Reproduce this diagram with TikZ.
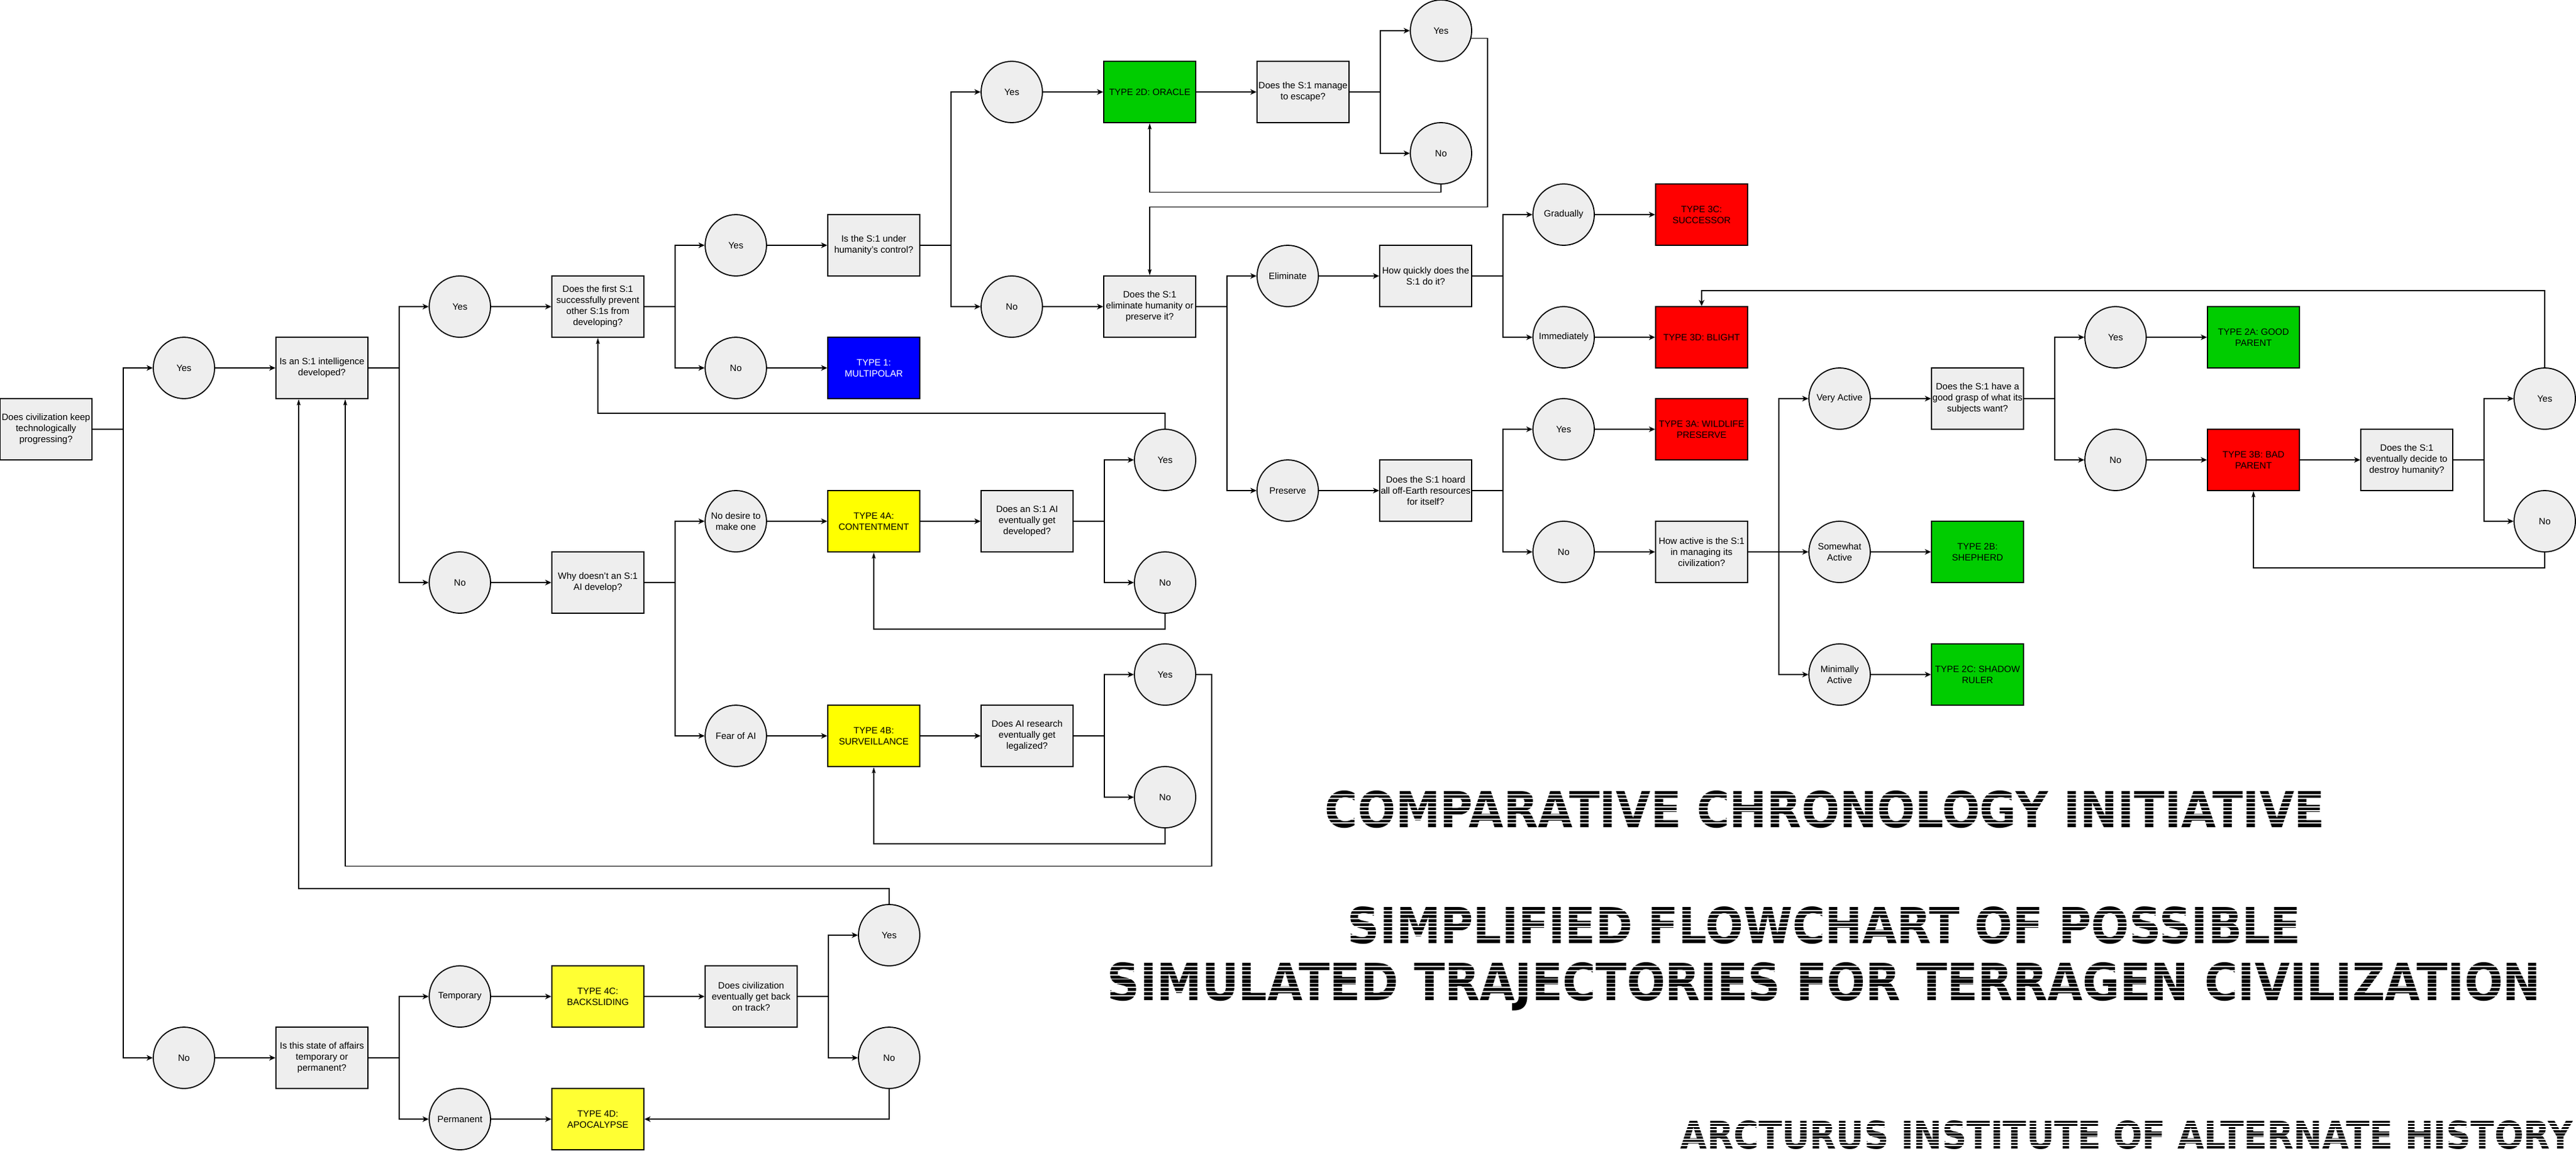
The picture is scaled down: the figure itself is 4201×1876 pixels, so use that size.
\documentclass[tikz,border=0pt]{standalone}
\usepackage{fontspec,graphicx}
\setmainfont{Liberation Sans}
\newfontfamily\titlefont{DejaVu Sans}
\usetikzlibrary{arrows.meta,calc}
\definecolor{qgrey}{HTML}{EEEEEE}
\definecolor{typegreen}{HTML}{00CC00}
\definecolor{typered}{HTML}{FF0000}
\definecolor{typeblue}{HTML}{0000FF}
\definecolor{typeyellow}{HTML}{FFFF00}
\definecolor{typeyellowb}{HTML}{FFFF33}
\newdimen\pxu \pxu=0.5pt
\begin{document}
\begin{tikzpicture}[x=0.5pt,y=-0.5pt,
  every node/.style={font=\fontsize{7.5}{9}\selectfont,align=center,inner sep=0pt,line width=0.9pt},
  qbox/.style={draw,rectangle,fill=qgrey,minimum width=75pt,minimum height=50pt},
  outcome/.style={qbox,fill=#1},
  ans/.style={draw,circle,fill=qgrey,minimum size=50pt},
  conn/.style={line width=0.75pt,-{Stealth[length=5pt,width=4.5pt,inset=1.5pt]}},
  back/.style={line width=0.75pt,-{Stealth[length=5pt,width=3pt,inset=1pt]}},
  stripe/.style={white,line width=0.9pt}]
\useasboundingbox (0,0) rectangle (4201,1876);
\fill[white] (0,0) rectangle (4201,1876);
\node[qbox] (civ) at (75,700) {Does civilization keep\\technologically\\progressing?};
\node[ans] (yesA) at (300,600) {Yes};
\node[ans] (noA) at (300,1725) {No};
\node[qbox] (s1dev) at (525,600) {Is an S:1 intelligence\\developed?};
\node[ans] (yesB) at (750,500) {Yes};
\node[ans] (noB) at (750,950) {No};
\node[qbox] (first) at (975,500) {Does the first S:1\\successfully prevent\\other S:1s from\\developing?};
\node[ans] (yesC) at (1200,400) {Yes};
\node[ans] (noC) at (1200,600) {No};
\node[qbox] (control) at (1425,400) {Is the S:1 under\\humanity's control?};
\node[outcome=typeblue,text=white] (multi) at (1425,600) {TYPE 1:\\MULTIPOLAR};
\node[ans] (yesD) at (1650,150) {Yes};
\node[ans] (noD) at (1650,500) {No};
\node[outcome=typegreen] (oracle) at (1875,150) {TYPE 2D: ORACLE};
\node[qbox] (escape) at (2125,150) {Does the S:1 manage\\to escape?};
\node[ans] (yesE) at (2350,50) {Yes};
\node[ans] (noE) at (2350,250) {No};
\node[qbox] (elim) at (1875,500) {Does the S:1\\eliminate humanity or\\preserve it?};
\node[ans] (elimA) at (2100,450) {Eliminate};
\node[ans] (presA) at (2100,800) {Preserve};
\node[qbox] (quick) at (2325,450) {How quickly does the\\S:1 do it?};
\node[ans] (grad) at (2550,350) {Gradually};
\node[ans] (immed) at (2550,550) {Immediately};
\node[outcome=typered] (succ) at (2775,350) {TYPE 3C:\\SUCCESSOR};
\node[outcome=typered] (blight) at (2775,550) {TYPE 3D: BLIGHT};
\node[qbox] (hoard) at (2325,800) {Does the S:1 hoard\\all off-Earth resources\\for itself?};
\node[ans] (yesH) at (2550,700) {Yes};
\node[ans] (noH) at (2550,900) {No};
\node[outcome=typered] (wild) at (2775,700) {TYPE 3A: WILDLIFE\\PRESERVE};
\node[qbox] (active) at (2775,900) {How active is the S:1\\in managing its\\civilization?};
\node[ans] (veryA) at (3000,650) {Very Active};
\node[ans] (someA) at (3000,900) {Somewhat\\Active};
\node[ans] (minA) at (3000,1100) {Minimally\\Active};
\node[qbox] (grasp) at (3225,650) {Does the S:1 have a\\good grasp of what its\\subjects want?};
\node[outcome=typegreen] (shep) at (3225,900) {TYPE 2B:\\SHEPHERD};
\node[outcome=typegreen] (shadow) at (3225,1100) {TYPE 2C: SHADOW\\RULER};
\node[ans] (yesG) at (3450,550) {Yes};
\node[ans] (noG) at (3450,750) {No};
\node[outcome=typegreen] (goodp) at (3675,550) {TYPE 2A: GOOD\\PARENT};
\node[outcome=typered] (badp) at (3675,750) {TYPE 3B: BAD\\PARENT};
\node[qbox] (destroy) at (3925,750) {Does the S:1\\eventually decide to\\destroy humanity?};
\node[ans] (yesX) at (4150,650) {Yes};
\node[ans] (noX) at (4150,850) {No};
\node[qbox] (whynot) at (975,950) {Why doesn't an S:1\\AI develop?};
\node[ans] (desire) at (1200,850) {No desire to\\make one};
\node[ans] (fear) at (1200,1200) {Fear of AI};
\node[outcome=typeyellow] (content) at (1425,850) {TYPE 4A:\\CONTENTMENT};
\node[outcome=typeyellow] (surv) at (1425,1200) {TYPE 4B:\\SURVEILLANCE};
\node[qbox] (aidev) at (1675,850) {Does an S:1 AI\\eventually get\\developed?};
\node[qbox] (legal) at (1675,1200) {Does AI research\\eventually get\\legalized?};
\node[ans] (yesF) at (1900,750) {Yes};
\node[ans] (noF) at (1900,950) {No};
\node[ans] (yesL) at (1900,1100) {Yes};
\node[ans] (noL) at (1900,1300) {No};
\node[qbox] (tempq) at (525,1725) {Is this state of affairs\\temporary or\\permanent?};
\node[ans] (temp) at (750,1625) {Temporary};
\node[ans] (perm) at (750,1825) {Permanent};
\node[outcome=typeyellowb] (backsl) at (975,1625) {TYPE 4C:\\BACKSLIDING};
\node[outcome=typeyellowb] (apoc) at (975,1825) {TYPE 4D:\\APOCALYPSE};
\node[qbox] (track) at (1225,1625) {Does civilization\\eventually get back\\on track?};
\node[ans] (yesT) at (1450,1525) {Yes};
\node[ans] (noT) at (1450,1725) {No};
\foreach \a/\b in {civ/yesA,civ/noA,s1dev/yesB,s1dev/noB,first/yesC,first/noC,control/yesD,control/noD,
  escape/yesE,escape/noE,elim/elimA,elim/presA,quick/grad,quick/immed,hoard/yesH,hoard/noH,
  active/veryA,active/someA,active/minA,grasp/yesG,grasp/noG,destroy/yesX,destroy/noX,
  whynot/desire,whynot/fear,aidev/yesF,aidev/noF,legal/yesL,legal/noL,tempq/temp,tempq/perm,track/yesT,track/noT}
  \draw[conn] (\a.east) -- ++(50,0) |- (\b);
\foreach \a/\b in {yesA/s1dev,yesB/first,yesC/control,noC/multi,yesD/oracle,oracle/escape,noD/elim,
  elimA/quick,grad/succ,immed/blight,presA/hoard,yesH/wild,noH/active,veryA/grasp,someA/shep,minA/shadow,
  yesG/goodp,noG/badp,badp/destroy,noB/whynot,desire/content,content/aidev,fear/surv,surv/legal,
  noA/tempq,temp/backsl,backsl/track,perm/apoc}
  \draw[conn] (\a) -- (\b);
\draw[back] (noE.south) -- ++(0,12.5) -| (oracle.south);
\draw[back] (yesE.-14.5) -| ++(26.6,275) -| (elim.north);
\draw[back] (yesF.north) -- ++(0,-25) -| (first.south);
\draw[back] (noF.south) -- ++(0,25) -| (content.south);
\draw[back] (noL.south) -- ++(0,25) -| (surv.south);
\draw[back] (yesL.east) -- ++(25,0) -- ++(0,312.5) -| ($(s1dev.south)!0.5!(s1dev.south east)$);
\draw[back] (yesT.north) -- ++(0,-25) -| ($(s1dev.south)!0.5!(s1dev.south west)$);
\draw[conn] (noT.south) |- (apoc.east);
\draw[conn] (yesX.north) -- ++(0,-125) -| (blight.north);
\draw[back] (noX.south) -- ++(0,25) -| (badp.south);
\foreach \n/\xa/\ya/\w/\h/\txt in {cci/2160/1289/1630/60/COMPARATIVE CHRONOLOGY INITIATIVE,
  sfpos/2197/1478/1554/60/SIMPLIFIED FLOWCHART OF POSSIBLE,
  simtraj/1805/1569/2337/62/SIMULATED TRAJECTORIES FOR TERRAGEN CIVILIZATION,
  aiah/2740/1827/1455/46/ARCTURUS INSTITUTE OF ALTERNATE HISTORY}
  {\node[anchor=north west] (\n) at (\xa,\ya) {\resizebox{\w\pxu}{\h\pxu}{\titlefont\bfseries \txt}};
  \foreach \k in {1,...,8}
    \draw[stripe] (\xa,\ya+\k*\h/9) -- ++(\w,0);}
\end{tikzpicture}
\end{document}
